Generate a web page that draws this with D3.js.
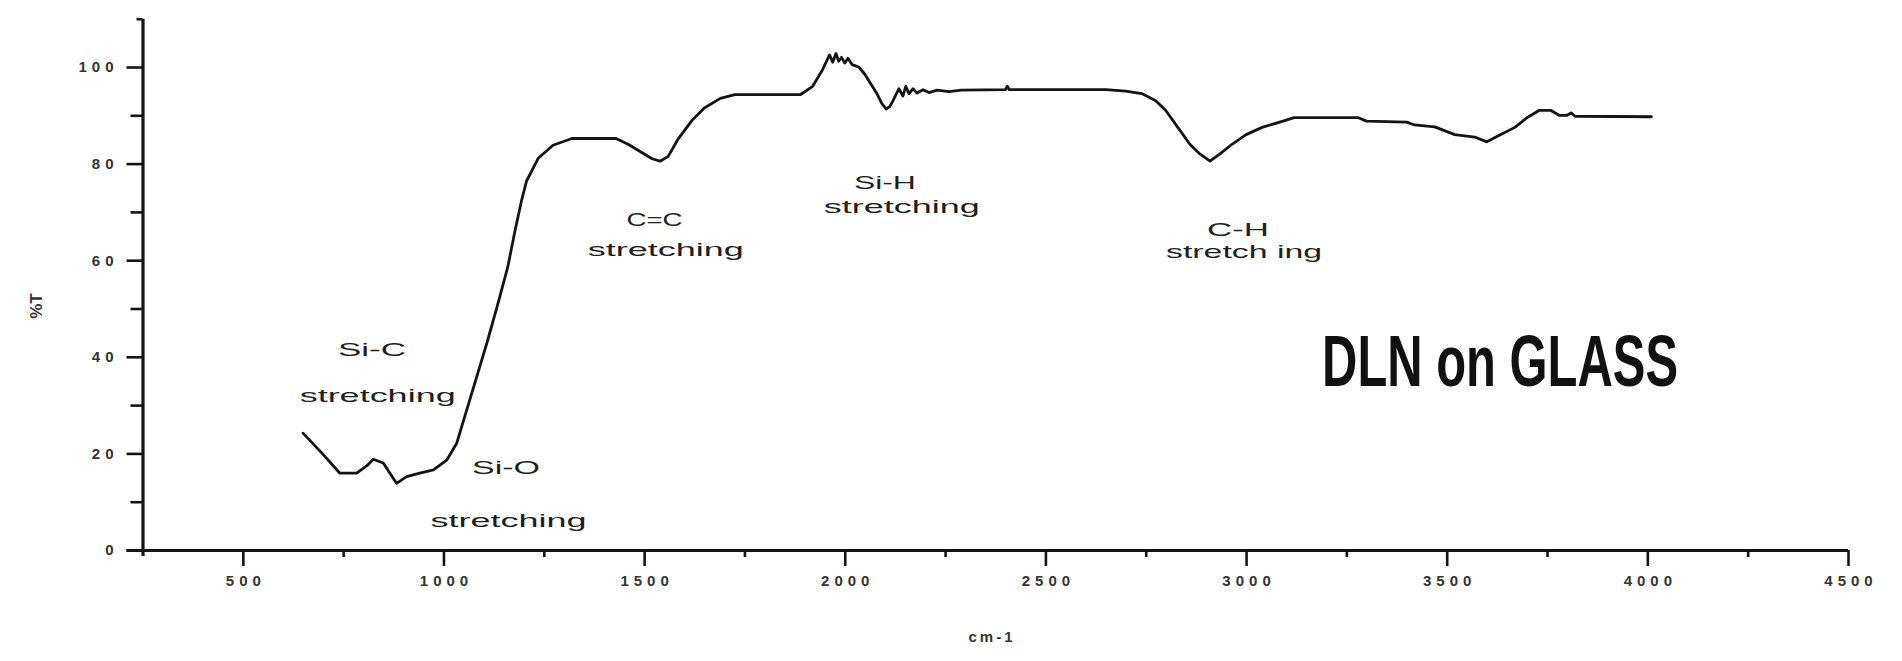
<!DOCTYPE html>
<html>
<head>
<meta charset="utf-8">
<script src="https://cdn.jsdelivr.net/npm/d3@7/dist/d3.min.js"></script>
<style>
  html, body { margin: 0; padding: 0; background: #ffffff; }
  svg { display: block; }
  text { font-family: "Liberation Sans", Arial, sans-serif; }
</style>
</head>
<body>
<svg id="chart" width="1902" height="661"></svg>
<script>
// ---- data ----
const wavenumber = [650, 700, 742, 784, 810, 825, 850, 883, 908, 941, 975, 1008, 1033, 1058, 1083, 1108, 1133, 1160, 1178, 1195, 1207, 1236, 1273, 1320, 1430, 1460, 1490, 1520, 1540, 1560, 1584, 1620, 1650, 1690, 1726, 1890, 1920, 1945, 1962, 1970, 1978, 1985, 1992, 2000, 2008, 2018, 2035, 2050, 2065, 2080, 2092, 2103, 2112, 2120, 2135, 2145, 2152, 2160, 2170, 2180, 2195, 2210, 2230, 2260, 2290, 2400, 2405, 2410, 2650, 2700, 2740, 2775, 2800, 2830, 2860, 2885, 2910, 2935, 2965, 3000, 3040, 3080, 3120, 3280, 3300, 3400, 3420, 3470, 3520, 3570, 3600, 3630, 3670, 3700, 3730, 3760, 3780, 3800, 3810, 3820, 4010];
const transmittance = [24.2, 19.8, 15.9, 15.9, 17.5, 18.8, 18.0, 13.8, 15.2, 15.9, 16.6, 18.6, 22.1, 29.0, 35.9, 42.8, 50.2, 58.5, 66.0, 72.5, 76.4, 81.1, 83.8, 85.2, 85.2, 84.0, 82.5, 81.0, 80.5, 81.5, 85.0, 89.0, 91.5, 93.5, 94.3, 94.3, 96.0, 99.5, 102.5, 101.0, 102.8, 101.2, 102.0, 100.8, 101.8, 100.5, 100.0, 98.5, 96.5, 94.5, 92.5, 91.3, 91.8, 93.0, 95.5, 94.0, 96.0, 94.5, 95.5, 94.6, 95.3, 94.7, 95.2, 94.9, 95.2, 95.3, 96.0, 95.3, 95.3, 95.0, 94.5, 93.0, 91.0, 87.5, 84.0, 82.0, 80.5, 82.0, 84.0, 86.0, 87.5, 88.5, 89.5, 89.5, 88.8, 88.6, 88.0, 87.6, 86.0, 85.5, 84.5, 85.8, 87.5, 89.5, 91.0, 91.0, 90.0, 90.0, 90.5, 89.8, 89.7];

const xMajorTicks = [500, 1000, 1500, 2000, 2500, 3000, 3500, 4000, 4500];
const xMinorTicks = [750, 1250, 1750, 2250, 2750, 3250, 3750, 4250];
const yMajorTicks = [0, 20, 40, 60, 80, 100];
const yMinorTicks = [10, 30, 50, 70, 90, 110];

const xTitle = "cm-1";
const yTitle = "%T";
const chartTitle = "DLN on GLASS";

// peak annotations: label lines and anchor (data coords)
const annotLine1 = ["Si-C", "Si-O", "C=C", "Si-H", "C-H"];
const annotLine2 = ["stretching", "stretching", "stretching", "stretching", "stretch ing"];
const annotX1 = [822, 1156, 1526, 2100, 2980];
const annotY1 = [41.2, 16.8, 68.2, 75.8, 66.0];
const annotX2 = [836, 1162, 1554, 2142, 2995];
const annotY2 = [31.6, 5.8, 62.0, 70.9, 61.4];

// ---- layout ----
const svg = d3.select("#chart");
const x = d3.scaleLinear().domain([250, 4500]).range([142.5, 1848]);
const y = d3.scaleLinear().domain([0, 110]).range([550, 18.7]);

const ink = "#141414";

// x axis
const gx = svg.append("g").attr("transform", `translate(0,${y(0)})`);
gx.call(d3.axisBottom(x).tickValues(xMajorTicks).tickSize(16).tickSizeOuter(0).tickPadding(9)
  .tickFormat(d => String(d)));
gx.select(".domain").attr("stroke", ink).attr("stroke-width", 3.2)
  .attr("d", `M${x(250) - 16},0.5H${x(4500)}`);
gx.selectAll(".tick line").attr("stroke", ink).attr("stroke-width", 2.6);
gx.selectAll(".tick text").attr("fill", "#333").attr("font-size", 15)
  .attr("letter-spacing", 5).attr("font-weight", 600).attr("dx", 2.5);

const gxm = svg.append("g").attr("transform", `translate(0,${y(0)})`);
gxm.call(d3.axisBottom(x).tickValues(xMinorTicks).tickSize(7).tickSizeOuter(0).tickFormat(""));
gxm.select(".domain").remove();
gxm.selectAll(".tick line").attr("stroke", ink).attr("stroke-width", 2.6);

// y axis
const gy = svg.append("g").attr("transform", `translate(${x(250)},0)`);
gy.call(d3.axisLeft(y).tickValues(yMajorTicks).tickSize(16).tickSizeOuter(0).tickPadding(8)
  .tickFormat(d => String(d)));
gy.select(".domain").attr("stroke", ink).attr("stroke-width", 3.2)
  .attr("d", `M0.5,${y(110)}V${y(0) + 6}`);
gy.selectAll(".tick line").attr("stroke", ink).attr("stroke-width", 2.6);
gy.selectAll(".tick text").attr("fill", "#333").attr("font-size", 15)
  .attr("letter-spacing", 5).attr("font-weight", 600);

const gym = svg.append("g").attr("transform", `translate(${x(250)},0)`);
gym.call(d3.axisLeft(y).tickValues(yMinorTicks).tickSize(12).tickSizeOuter(0).tickFormat(""));
gym.select(".domain").remove();
gym.selectAll(".tick line").attr("stroke", ink).attr("stroke-width", 2.6);
gym.selectAll(".tick").filter(d => d === 110).select("line").attr("x2", -6);

// axis titles
svg.append("text").attr("x", 992).attr("y", 638)
  .attr("text-anchor", "middle").attr("dominant-baseline", "middle")
  .attr("font-size", 15).attr("letter-spacing", 3).attr("font-weight", 600).attr("fill", "#333")
  .text(xTitle);
svg.append("text").attr("transform", "translate(38,306) rotate(-90)")
  .attr("text-anchor", "middle").attr("dominant-baseline", "middle")
  .attr("font-size", 17).attr("font-weight", 700).attr("fill", "#333")
  .text(yTitle);

// spectrum line
const line = d3.line().x(d => x(d[0])).y(d => y(d[1])).curve(d3.curveLinear);
svg.append("path")
  .datum(wavenumber.map((w, i) => [w, transmittance[i]]))
  .attr("d", line)
  .attr("fill", "none").attr("stroke", ink).attr("stroke-width", 2.8)
  .attr("stroke-linejoin", "round").attr("stroke-linecap", "round");

// annotations
const annW1 = [68, 68, 56, 62, 62];
annotLine1.forEach((t, i) => {
  svg.append("text").attr("x", x(annotX1[i])).attr("y", y(annotY1[i]))
    .attr("text-anchor", "middle").attr("dominant-baseline", "middle")
    .attr("font-size", 19).attr("fill", "#1e1e1e")
    .attr("textLength", annW1[i]).attr("lengthAdjust", "spacingAndGlyphs")
    .text(t);
  svg.append("text").attr("x", x(annotX2[i])).attr("y", y(annotY2[i]))
    .attr("text-anchor", "middle").attr("dominant-baseline", "middle")
    .attr("font-size", 19).attr("fill", "#1e1e1e")
    .attr("textLength", 156).attr("lengthAdjust", "spacingAndGlyphs")
    .text(annotLine2[i]);
});

// big title
svg.append("text").attr("x", x(3633)).attr("y", 386)
  .attr("text-anchor", "middle")
  .attr("font-family", "Roboto, 'DejaVu Sans', sans-serif")
  .attr("font-size", 73).attr("font-weight", 700).attr("fill", "#111")
  .attr("textLength", 356).attr("lengthAdjust", "spacingAndGlyphs")
  .text(chartTitle);
</script>
</body>
</html>
